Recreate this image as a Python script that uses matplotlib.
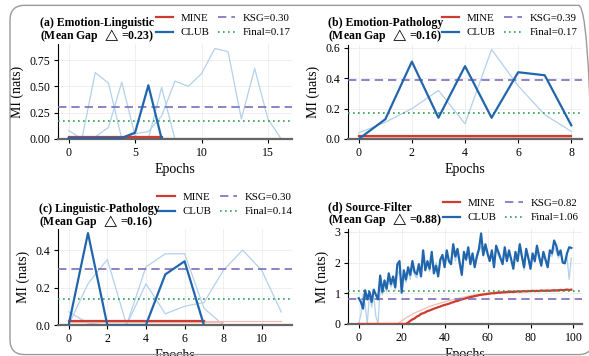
"""
MI estimator comparison, 4 panels
"""
import numpy as np
import matplotlib
matplotlib.use('Agg')
import matplotlib.pyplot as plt
from matplotlib.patches import FancyBboxPatch

plt.rcParams['font.family'] = ['Liberation Serif', 'DejaVu Serif']
plt.rcParams['mathtext.fontset'] = 'stix'

# ---- panel (a) Emotion-Linguistic
a_club = [0.01, 0.01, 0.01, 0.01, 0.01, 0.06, 0.51, 0.00]
a_mine = [0.02, 0.02, 0.02, 0.02, 0.02, 0.02, 0.02, 0.02]
a_club_runs = [
    [0.08, 0.00, 0.63, 0.53, 0.00, 0.05, 0.07, 0.22, 0.55, 0.50, 0.62, 0.86, 0.83, 0.19, 0.67, 0.19, 0.00],
    [0.01, 0.01, 0.02, 0.11, 0.54, 0.03, 0.00, 0.49, 0.00],
]
a_mine_runs = [
    [0.01] * 17,
    [0.01] * 9,
]
a_ksg = 0.30
a_final = 0.17

# ---- panel (b) Emotion-Pathology
b_club = [0.00, 0.13, 0.51, 0.14, 0.48, 0.14, 0.44, 0.42, 0.09]
b_mine = [0.02] * 9
b_club_runs = [
    [0.04, 0.11, 0.20, 0.32, 0.10, 0.59, 0.35, 0.16, 0.05],
]
b_mine_runs = [
    [0.015] * 9,
]
b_ksg = 0.39
b_final = 0.17

# ---- panel (c) Linguistic-Pathology
c_club = [0.00, 0.49, 0.00, 0.00, 0.00, 0.27, 0.34, 0.00]
c_mine = [0.02] * 8
c_club_runs = [
    [0.07, 0.01, 0.00, 0.00, 0.22, 0.06, 0.10, 0.12, 0.29, 0.40, 0.29, 0.07],
    [0.00, 0.22, 0.35, 0.00, 0.31, 0.38, 0.38, 0.09, 0.00],
]
c_mine_runs = [
    [0.02] * 12,
    [0.015] * 9,
]
c_ksg = 0.30
c_final = 0.14

# ---- panel (d) Source-Filter
d_club = [0.84, 0.72, 0.50, 1.10, 0.80, 1.05, 0.72, 1.12, 0.95, 0.80,
          1.58, 1.05, 1.42, 1.15, 1.65, 1.30, 1.55, 1.20, 1.95, 2.05,
          1.02, 1.75, 1.45, 1.85, 1.60, 2.05, 1.70, 1.62, 1.95, 1.55,
          2.40, 1.75, 2.05, 1.80, 2.35, 1.65, 1.90, 1.55, 2.10, 2.25,
          1.85, 2.40, 2.05, 1.95, 2.60, 2.20, 2.45, 2.00, 1.60, 2.35,
          2.10, 2.50, 1.95, 2.30, 1.85, 2.20, 2.45, 2.95, 2.25, 2.60,
          2.30, 2.05, 2.40, 1.85, 2.55, 2.35, 2.15, 1.95, 2.50, 2.05,
          2.40, 2.10, 1.80, 2.35, 2.05, 2.60, 2.20, 1.85, 2.45, 2.15,
          1.80, 2.30, 2.05, 2.55, 2.20, 1.90, 2.35, 2.10, 1.85, 2.40,
          2.30, 2.72, 2.55, 2.25, 2.40, 2.00, 1.98, 2.30, 2.50, 2.48]
d_mine = [0.0] * 23 + [
    0.05, 0.10, 0.15, 0.18, 0.24, 0.27, 0.33,
    0.35, 0.38, 0.42, 0.44, 0.47, 0.50, 0.52, 0.55, 0.57, 0.60,
    0.62, 0.64, 0.66, 0.69, 0.71, 0.74, 0.75, 0.78, 0.80, 0.82,
    0.84, 0.86, 0.88, 0.89, 0.91, 0.92, 0.94, 0.95, 0.96, 0.97,
    0.98, 0.99, 1.00, 1.00, 1.01, 1.02, 1.02, 1.03, 1.03, 1.04,
    1.04, 1.05, 1.04, 1.05, 1.06, 1.05, 1.06, 1.07, 1.06, 1.07,
    1.07, 1.08, 1.07, 1.08, 1.07, 1.09, 1.08, 1.08, 1.09, 1.08,
    1.09, 1.10, 1.09, 1.10, 1.11, 1.10, 1.11, 1.12, 1.11, 1.12]
d_club_runs = [
    [0.00, 0.30, 0.95, 0.60, 0.00, 1.00, 0.55, 0.90, 0.25, 0.00,
     1.20, 0.95, 1.30, 1.05, 1.50, 1.20, 1.40, 1.10, 1.60, 1.75,
     1.25, 1.55, 1.35, 1.70, 1.45, 1.85, 1.60, 1.50, 1.80, 1.60,
     2.15, 1.80, 1.95, 1.70, 2.20, 1.80, 2.00, 1.70, 2.05, 2.20,
     1.95, 2.30, 2.00, 2.10, 2.45, 2.05, 2.30, 1.95, 1.80, 2.25,
     2.05, 2.35, 2.00, 2.20, 1.90, 2.15, 2.35, 2.55, 2.20, 2.45,
     2.25, 2.10, 2.30, 1.95, 2.40, 2.25, 2.10, 2.00, 2.35, 2.10,
     2.30, 2.15, 1.90, 2.25, 2.05, 2.45, 2.15, 1.75, 2.35, 2.10,
     1.90, 2.25, 2.00, 2.40, 2.10, 1.95, 2.30, 2.05, 1.85, 2.25,
     2.20, 2.50, 2.35, 2.15, 2.30, 2.05, 1.95, 2.20, 1.45, 2.15],
]
d_mine_runs = [
    [0.0] * 19 + [
        0.05, 0.10, 0.15, 0.20, 0.24, 0.28, 0.32, 0.36, 0.39, 0.42, 0.45,
        0.48, 0.51, 0.54, 0.57, 0.59, 0.62, 0.64, 0.66, 0.68, 0.70,
        0.72, 0.74, 0.76, 0.78, 0.80, 0.82, 0.83, 0.85, 0.86, 0.88,
        0.89, 0.91, 0.92, 0.94, 0.95, 0.96, 0.97, 0.98, 0.99, 1.00,
        1.01, 1.02, 1.03, 1.03, 1.04, 1.05, 1.05, 1.06, 1.06, 1.07,
        1.07, 1.08, 1.07, 1.08, 1.08, 1.09, 1.08, 1.09, 1.09, 1.10,
        1.09, 1.10, 1.10, 1.09, 1.10, 1.11, 1.10, 1.11, 1.10, 1.11,
        1.11, 1.12, 1.11, 1.12, 1.11, 1.12, 1.12, 1.13, 1.12, 1.10],
]
d_ksg = 0.82
d_final = 1.06

title_names = ['(a) Emotion-Linguistic', '(b) Emotion-Pathology',
               '(c) Linguistic-Pathology', '(d) Source-Filter']
mean_gaps = [0.23, 0.16, 0.16, 0.88]

C_MINE = '#cc3d2f'
C_CLUB = '#2166ac'
C_MINE_L = '#f2bcb4'
C_CLUB_L = '#b3d1ec'
C_KSG = '#7d6cc0'
C_FINAL = '#2f9e52'

fig = plt.figure(figsize=(5.89, 3.56), dpi=100)

# rounded frame around the figure
frame = FancyBboxPatch((0.017, 0.004), 0.99, 0.981, transform=fig.transFigure,
                       boxstyle='round,pad=0,rounding_size=0.025',
                       mutation_aspect=1.65, fc='none', ec='#9a9a9a', lw=1.0)
fig.patches.append(frame)

positions = [[0.0985, 0.6096, 0.397, 0.267],
             [0.591, 0.6096, 0.397, 0.264],
             [0.0985, 0.087, 0.397, 0.271],
             [0.591, 0.0899, 0.397, 0.267]]
# title x and last-line baseline (pixels from top), legend (right, bottom) in figure fractions
title_x = [0.068, 0.557, 0.066, 0.557]
title_base = [38.5, 38.5, 224.5, 222.5]
legend_xy = [(0.494, 0.895), (0.980, 0.895), (0.497, 0.392), (0.982, 0.375)]

panels = [
    (a_club, a_mine, a_club_runs, a_mine_runs, a_ksg, a_final, [0, 5, 10, 15], [0, 0.25, 0.5, 0.75], '%.2f'),
    (b_club, b_mine, b_club_runs, b_mine_runs, b_ksg, b_final, [0, 2, 4, 6, 8], [0, 0.2, 0.4, 0.6], '%.1f'),
    (c_club, c_mine, c_club_runs, c_mine_runs, c_ksg, c_final, [0, 2, 4, 6, 8, 10], [0, 0.2, 0.4], '%.1f'),
    (d_club, d_mine, d_club_runs, d_mine_runs, d_ksg, d_final, [0, 20, 40, 60, 80, 100], [0, 1, 2, 3], '%d'),
]

H = 356.0
for i, (club, mine, club_runs, mine_runs, ksg, final, xt, yt, fmt) in enumerate(panels):
    ax = fig.add_axes(positions[i])
    for run in club_runs:
        ax.plot(np.arange(len(run)), run, color=C_CLUB_L, lw=0.9, zorder=2)
    for run in mine_runs:
        ax.plot(np.arange(len(run)), run, color=C_MINE_L, lw=0.9, zorder=2)
    ax.plot(np.arange(len(mine)), mine, color=C_MINE, lw=1.6, label='MINE', zorder=3)
    ax.plot(np.arange(len(club)), club, color=C_CLUB, lw=1.6, label='CLUB', zorder=4)
    ax.axhline(ksg, color=C_KSG, lw=1.2, ls=(0, (5, 3)), label='KSG=%.2f' % ksg, zorder=3)
    ax.axhline(final, color=C_FINAL, lw=1.2, ls=(0, (1, 2)), label='Final=%.2f' % final, zorder=3)

    ax.set_ylim(bottom=0)
    ax.set_xticks(xt)
    ax.set_yticks(yt)
    ax.set_yticklabels([fmt % v for v in yt])
    ax.tick_params(labelsize=8.5, length=3, width=0.8, pad=2.5)
    ax.grid(True, color='#ececec', lw=0.6)
    ax.set_axisbelow(True)
    for s in ['top', 'right']:
        ax.spines[s].set_visible(False)
    ax.spines['left'].set_linewidth(0.8)
    ax.spines['bottom'].set_color('#666666')
    ax.spines['bottom'].set_linewidth(1.6)

    ax.set_xlabel('Epochs', fontsize=10, labelpad=3)
    ax.set_ylabel('MI (nats)', fontsize=10, labelpad=4)

    title = title_names[i] + '\n(Mean Gap $\\ \\triangle\\,$=%.2f)' % mean_gaps[i]
    fig.text(title_x[i], 1 - title_base[i] / H, title, fontsize=8.5,
             fontweight='bold', ha='left', va='baseline', linespacing=0.8)

    ax.legend(loc='lower right', bbox_to_anchor=legend_xy[i], bbox_transform=fig.transFigure,
              ncol=2, frameon=False, fontsize=7.8, handlelength=1.6, handletextpad=0.7,
              columnspacing=0.8, labelspacing=0.45, borderaxespad=0.0, borderpad=0.0)

fig.savefig('out.png', dpi=100)
